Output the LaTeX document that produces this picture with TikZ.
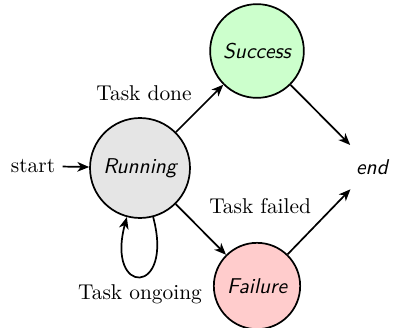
\documentclass[tikz,border=0pt]{standalone}
\usetikzlibrary{arrows.meta}
\begin{document}
\begin{tikzpicture}[x=0.4673pt,y=-0.4673pt,
  state/.style={circle,draw,thick,inner sep=4.5pt,font=\sffamily\itshape},
  plain/.style={circle,inner sep=4.5pt,font=\sffamily\itshape},
  trans/.style={-{Stealth[length=5.5pt,width=4.5pt,inset=1.6pt]},thick},
  lbl/.style={font=\rmfamily}]
  \useasboundingbox (0,0) rectangle (396,328);
  \node[state,fill=gray!20]  (run)  at (140,168) {Running};
  \node[state,fill=green!20] (succ) at (257,51)  {Success};
  \node[state,fill=red!20]   (fail) at (257,286) {Failure};
  \node[plain]               (fin)  at (372,167) {end};
  \node[lbl]                 (start) at (33,166) {start};
  \draw[trans] (start) -- (run);
  \draw[trans] (run) -- node[lbl,above left] {Task done} (succ);
  \draw[trans] (run) -- (fail);
  \draw[trans] (succ) -- (fin);
  \draw[trans] (fail) -- node[lbl,above left] {Task failed} (fin);
  \draw[trans] (run) to[out=285,in=255,looseness=8,min distance=5mm]
    node[lbl,below] {Task ongoing} (run);
\end{tikzpicture}
\end{document}
